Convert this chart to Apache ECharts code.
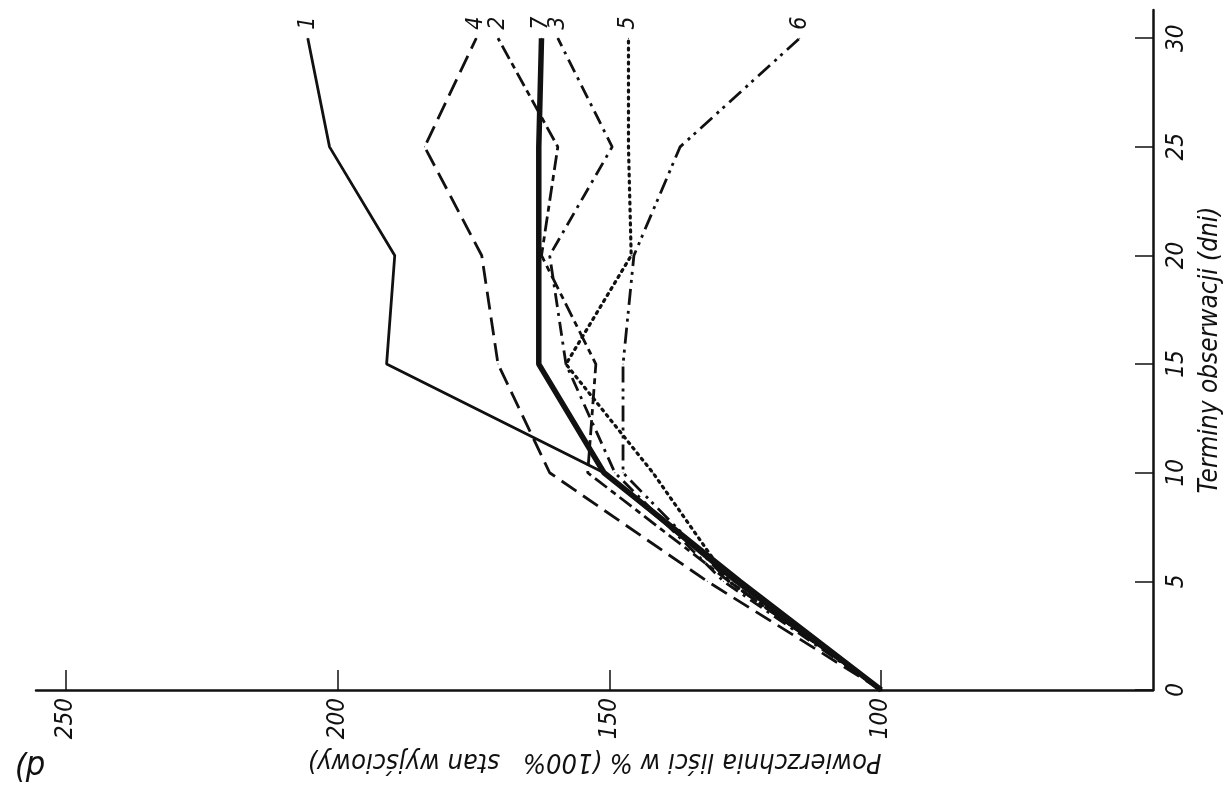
<!DOCTYPE html>
<html>
<head>
<meta charset="utf-8">
<script src="https://cdn.jsdelivr.net/npm/echarts@6/dist/echarts.min.js"></script>
<style>
  html, body { margin: 0; padding: 0; background: #fff; overflow: hidden; }
  #chart { width: 1227px; height: 794px; }
</style>
</head>
<body>
<div id="chart"></div>
<script>
// dni obserwacji
var days = [0, 5, 10, 15, 20, 25, 30]
// powierzchnia liści w % dla kombinacji 1-7
var s1 = [100, 127, 151, 191, 189.5, 201.5, 205.5]
var s2 = [100, 128, 154, 152.5, 162.5, 159.5, 170.5]
var s3 = [100, 129, 149, 158, 161, 149.5, 159.5]
var s4 = [100, 132, 161, 170.5, 173.5, 184, 174.5]
var s5 = [100, 128, 142, 158, 146, 146.5, 146.5]
var s6 = [100, 128, 147.5, 147.5, 145.5, 137, 115]
var s7 = [100, 126, 151, 163, 163, 163, 162.5]
var names = ['1', '2', '3', '4', '5', '6', '7']

var font = "'Liberation Sans Narrow', 'DejaVu Sans Condensed', sans-serif"
var ink = '#111'

function toPoints (vals, name) {
  return vals.map(function (v, i) {
    var p = { value: [v, days[i]] }
    if (i === vals.length - 1) {
      // numer krzywej nad końcem linii
      p.label = {
        show: true,
        formatter: name,
        position: 'top',
        distance: 8,
        rotate: 90,
        align: 'left',
        verticalAlign: 'middle',
        fontFamily: font,
        fontStyle: 'italic',
        fontSize: 23,
        color: ink
      }
    }
    return p
  })
}

function makeLine (name, vals, width, type, cap) {
  return {
    name: name,
    type: 'line',
    data: toPoints(vals, name),
    symbol: 'circle',
    symbolSize: 1,
    showSymbol: true,
    itemStyle: { color: ink },
    lineStyle: { color: ink, width: width, type: type, cap: cap || 'butt' },
    z: width > 4 ? 3 : 2,
    animation: false
  }
}

var chart = echarts.init(document.getElementById('chart'))
chart.setOption({
  backgroundColor: '#fff',
  animation: false,
  grid: { left: 36, right: 74, top: 10, bottom: 104, containLabel: false, outerBoundsMode: 'none' },
  xAxis: {
    type: 'value',
    min: 50,
    max: 255.5,
    interval: 50,
    inverse: true,
    position: 'bottom',
    name: 'Powierzchnia liści w % (100%   stan wyjściowy)',
    nameLocation: 'middle',
    nameRotate: 180,
    nameGap: 47,
    nameTextStyle: { fontFamily: font, fontStyle: 'italic', fontSize: 27, color: ink },
    axisLine: { lineStyle: { color: ink, width: 2.5 } },
    axisTick: { inside: true, length: 20, lineStyle: { color: ink, width: 1.5 } },
    axisLabel: {
      rotate: 90,
      margin: 8,
      showMinLabel: false,
      showMaxLabel: false,
      fontFamily: font,
      fontStyle: 'italic',
      fontSize: 24,
      color: ink
    },
    splitLine: { show: false }
  },
  yAxis: {
    type: 'value',
    min: 0,
    max: 31.3,
    interval: 5,
    position: 'right',
    name: 'Terminy obserwacji (dni)',
    nameLocation: 'middle',
    nameRotate: 90,
    nameGap: 40,
    nameTextStyle: { fontFamily: font, fontStyle: 'italic', fontSize: 26, color: ink },
    axisLine: { lineStyle: { color: ink, width: 2.5 } },
    axisTick: { inside: true, length: 18, lineStyle: { color: ink, width: 1.5 } },
    axisLabel: {
      rotate: 90,
      margin: 12,
      showMaxLabel: false,
      fontFamily: font,
      fontStyle: 'italic',
      fontSize: 24,
      color: ink
    },
    splitLine: { show: false }
  },
  graphic: [
    {
      type: 'text',
      left: 14,
      top: 748,
      rotation: Math.PI,
      originX: 15,
      originY: 18,
      style: { text: 'd)', fontFamily: font, fontStyle: 'italic', fontSize: 34, fill: ink }
    }
  ],
  series: [
    makeLine(names[0], s1, 2.8, 'solid'),
    makeLine(names[1], s2, 2.8, [15, 5, 6, 5]),
    makeLine(names[2], s3, 2.8, [14, 6, 3, 6]),
    makeLine(names[3], s4, 2.8, [18, 8]),
    makeLine(names[4], s5, 3.2, [2, 5], 'round'),
    makeLine(names[5], s6, 2.8, [16, 6, 3, 5, 3, 6]),
    makeLine(names[6], s7, 5.5, 'solid')
  ]
})
</script>
</body>
</html>
